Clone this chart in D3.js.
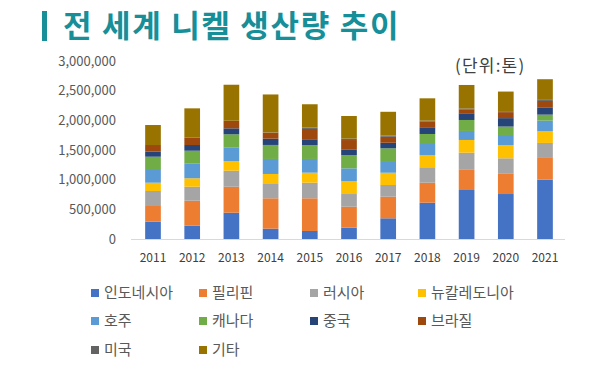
<!DOCTYPE html>
<html>
<head>
<meta charset="utf-8">
<script src="https://cdn.jsdelivr.net/npm/d3@7"></script>
<style>
  html, body { margin: 0; padding: 0; background: #fff; }
  svg { display: block; }
</style>
</head>
<body>
<svg id="chart" width="600" height="378"></svg>
<script>
const years = ["2011","2012","2013","2014","2015","2016","2017","2018","2019","2020","2021"];
const seriesNames = ["인도네시아","필리핀","러시아","뉴칼레도니아","호주","캐나다","중국","브라질","미국","기타"];
const indonesia    = [292000, 224000, 443000, 174000, 135000, 190000, 349000, 612000, 826000, 758000, 1000000];
const philippines  = [264000, 421000, 438000, 512000, 551000, 354000, 364000, 337000, 349000, 349000, 366000];
const russia       = [253000, 236000, 270000, 253000, 263000, 214000, 197000, 260000, 280000, 253000, 253000];
const newCaledonia = [140000, 142000, 163000, 157000, 169000, 219000, 207000, 207000, 214000, 224000, 196000];
const australia    = [214000, 253000, 224000, 253000, 231000, 214000, 197000, 185000, 152000, 169000, 180000];
const canada       = [224000, 212000, 226000, 236000, 231000, 224000, 214000, 169000, 185000, 142000, 101000];
const china        = [84000, 96000, 101000, 106000, 101000, 96000, 94000, 113000, 113000, 142000, 123000];
const brazil       = [113000, 123000, 128000, 101000, 174000, 157000, 101000, 94000, 67000, 101000, 108000];
const usa          = [0, 0, 0, 4000, 24000, 24000, 22000, 18000, 14000, 16000, 18000];
const others       = [337000, 495000, 607000, 640000, 392000, 381000, 399000, 376000, 396000, 331000, 348000];
const yTicks = [0, 500000, 1000000, 1500000, 2000000, 2500000, 3000000];
const colors = ["#4472C4","#ED7D31","#A5A5A5","#FFC000","#5B9BD5","#70AD47","#264478","#9E480E","#636363","#997300"];

const seriesValues = [indonesia, philippines, russia, newCaledonia, australia, canada, china, brazil, usa, others];
const rows = years.map((y, i) => {
  const r = { year: y };
  seriesNames.forEach((n, k) => r[n] = seriesValues[k][i]);
  return r;
});

const svg = d3.select("#chart");
const font = "'Noto Sans CJK KR', 'Noto Sans', sans-serif";

// Title
svg.append("rect").attr("x", 42).attr("y", 11).attr("width", 5).attr("height", 30).attr("fill", "#168F98");
svg.append("text").attr("x", 63).attr("y", 37)
  .attr("font-family", font).attr("font-weight", 700).attr("font-size", 31)
  .attr("letter-spacing", 1.7)
  .attr("fill", "#168F98").text("전 세계 니켈 생산량 추이");

const x = d3.scaleBand().domain(years).range([133.4, 564.6]).paddingInner(0.6).paddingOuter(0.3);
const y = d3.scaleLinear().domain([0, 3000000]).range([239, 61]);

const stack = d3.stack().keys(seriesNames)(rows);

svg.append("g").selectAll("g").data(stack).join("g")
  .attr("fill", (d, i) => colors[i])
  .selectAll("rect").data(d => d).join("rect")
  .attr("x", d => x(d.data.year))
  .attr("width", x.bandwidth())
  .attr("y", d => y(d[1]))
  .attr("height", d => y(d[0]) - y(d[1]));

// baseline
svg.append("line").attr("x1", 131).attr("x2", 565).attr("y1", y(0) + 0.5).attr("y2", y(0) + 0.5)
  .attr("stroke", "#D9D9D9").attr("stroke-width", 1);

// y axis
const yAxis = d3.axisLeft(y).tickValues(yTicks).tickSize(0).tickPadding(0)
  .tickFormat(d3.format(","));
const yg = svg.append("g").attr("transform", "translate(116,0)").call(yAxis);
yg.select(".domain").remove();
yg.selectAll("text").attr("font-family", font).attr("font-size", 13).attr("fill", "#595959");

// x axis
const xAxis = d3.axisBottom(x).tickSize(0).tickPadding(0);
const xg = svg.append("g").attr("transform", "translate(0,253)").call(xAxis);
xg.select(".domain").remove();
xg.selectAll("text").attr("font-family", font).attr("font-size", 12).attr("fill", "#404040");

// unit label
svg.append("text").attr("x", 455).attr("y", 72)
  .attr("font-family", font).attr("font-size", 17).attr("letter-spacing", 1.2)
  .attr("fill", "#404040").text("(단위:톤)");

// legend
const colX = [91, 199, 310, 418];
const rowY = [293, 321, 350];
const lg = svg.append("g").selectAll("g").data(seriesNames).join("g")
  .attr("transform", (d, i) => `translate(${colX[i % 4]},${rowY[Math.floor(i / 4)]})`);
lg.append("rect").attr("x", 0).attr("y", -4).attr("width", 8).attr("height", 8)
  .attr("fill", (d, i) => colors[i]);
lg.append("text").attr("x", 13).attr("y", 0).attr("dy", "0.35em")
  .attr("font-family", font).attr("font-size", 15).attr("fill", "#595959").text(d => d);
</script>
</body>
</html>
